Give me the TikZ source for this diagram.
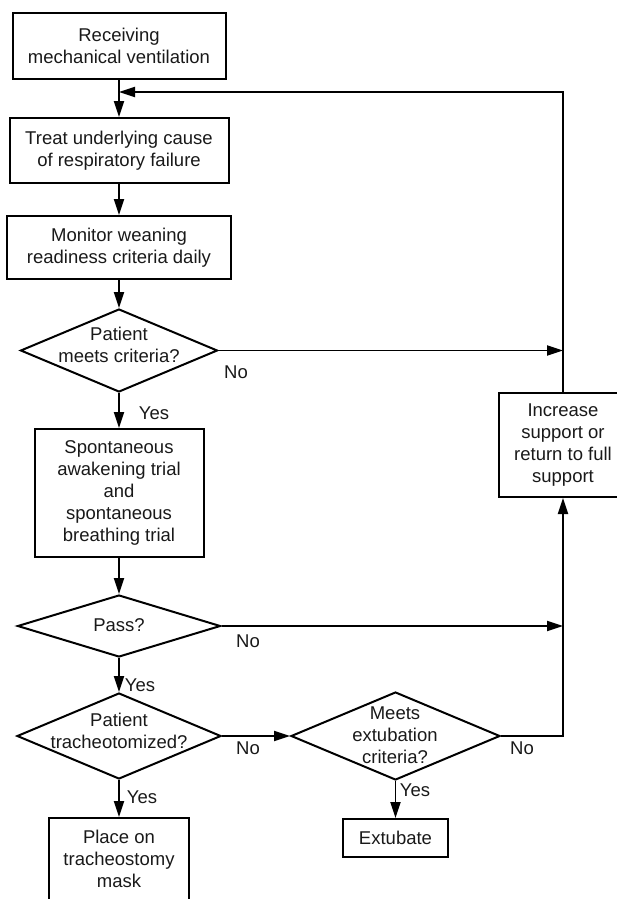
\documentclass[tikz,border=0pt]{standalone}
\usepackage{fontspec}
\setmainfont{Liberation Sans}
\usetikzlibrary{arrows.meta,shapes.geometric}
\begin{document}
\begin{tikzpicture}[x=1pt,y=-1pt,
  every node/.style={font=\fontsize{18.5}{22.2}\selectfont, text=black!90},
  box/.style={draw, line width=2pt, inner sep=0pt, align=center},
  dec/.style={draw, diamond, line width=2pt, inner sep=0pt},
  txt/.style={align=center, inner sep=0pt},
  lbl/.style={inner sep=0pt},
  arr/.style={line width=1.8pt, -{Triangle[length=16pt,width=10pt]}},
  ln/.style={line width=1.8pt}
]
\useasboundingbox (0,0) rectangle (617,899);
\clip (0,0) rectangle (617,899);

% boxes
\node[box, minimum width=213pt, minimum height=66pt] (b1) at (119,46) {Receiving\\mechanical ventilation};
\node[box, minimum width=219pt, minimum height=65pt] (b2) at (119,150.5) {Treat underlying cause\\of respiratory failure};
\node[box, minimum width=224pt, minimum height=63pt] (b3) at (119,247.5) {Monitor weaning\\readiness criteria daily};
\node[box, minimum width=169pt, minimum height=128pt] (sat) at (119,493) {Spontaneous\\awakening trial\\and\\spontaneous\\breathing trial};
\node[box, minimum width=128pt, minimum height=104pt] (inc) at (563,445) {Increase\\support or\\return to full\\support};
\node[box, minimum width=105pt, minimum height=38pt] (ext) at (395.5,838) {Extubate};
\node[box, minimum width=140pt, minimum height=84pt] (plc) at (119,860) {};
\node[txt] (plct) at (119,859) {Place on\\tracheostomy\\mask};

% decisions
\node[dec, minimum width=197pt, minimum height=83pt] (d1) at (119,350.5) {};
\node[txt] (d1t) at (119,345) {Patient\\meets criteria?};
\node[dec, minimum width=203pt, minimum height=62pt] (d2) at (119,626) {};
\node[txt] (d2t) at (119,625) {Pass?};
\node[dec, minimum width=204pt, minimum height=86pt] (d3) at (119,736) {};
\node[txt] (d3t) at (119,731) {Patient\\tracheotomized?};
\node[dec, minimum width=209pt, minimum height=88pt] (d4) at (395.5,736) {};
\node[txt] (d4t) at (395,735) {Meets\\extubation\\criteria?};

% helper coordinates
\coordinate (m) at (119,92);
\coordinate (r0) at (563,92);
\coordinate (r1) at (563,350.5);
\coordinate (r2) at (563,626);
\coordinate (r3) at (563,736);

% main trunk
\draw[ln] (b1.south) -- (m);
\draw[arr] (m) -- (b2.north);
\draw[arr] (b2.south) -- (b3.north);
\draw[arr] (b3.south) -- (d1.north);
\draw[arr] (d1.south) -- (sat.north);
\draw[arr] (sat.south) -- (d2.north);
\draw[arr] (d2.south) -- (d3.north);
\draw[arr] (d3.south) -- (plc.north);
\draw[arr] (d3.east) -- (d4.west);
\draw[arr] (d4.south) -- (ext.north);

% right side
\draw[arr] (d1.east) -- (r1);
\draw[arr] (d2.east) -- (r2);
\draw[arr] (d4.east) -- (r3) -- (inc.south);
\draw[arr] (inc.north) -- (r0) -- (m);

% labels
\node[lbl] (l1) at (236,372) {No};
\node[lbl] (l2) at (154,413) {Yes};
\node[lbl] (l3) at (248,641) {No};
\node[lbl] (l4) at (140,685) {Yes};
\node[lbl] (l5) at (248,748) {No};
\node[lbl] (l6) at (522,748) {No};
\node[lbl] (l7) at (415,790) {Yes};
\node[lbl] (l8) at (142,797) {Yes};
\end{tikzpicture}
\end{document}
